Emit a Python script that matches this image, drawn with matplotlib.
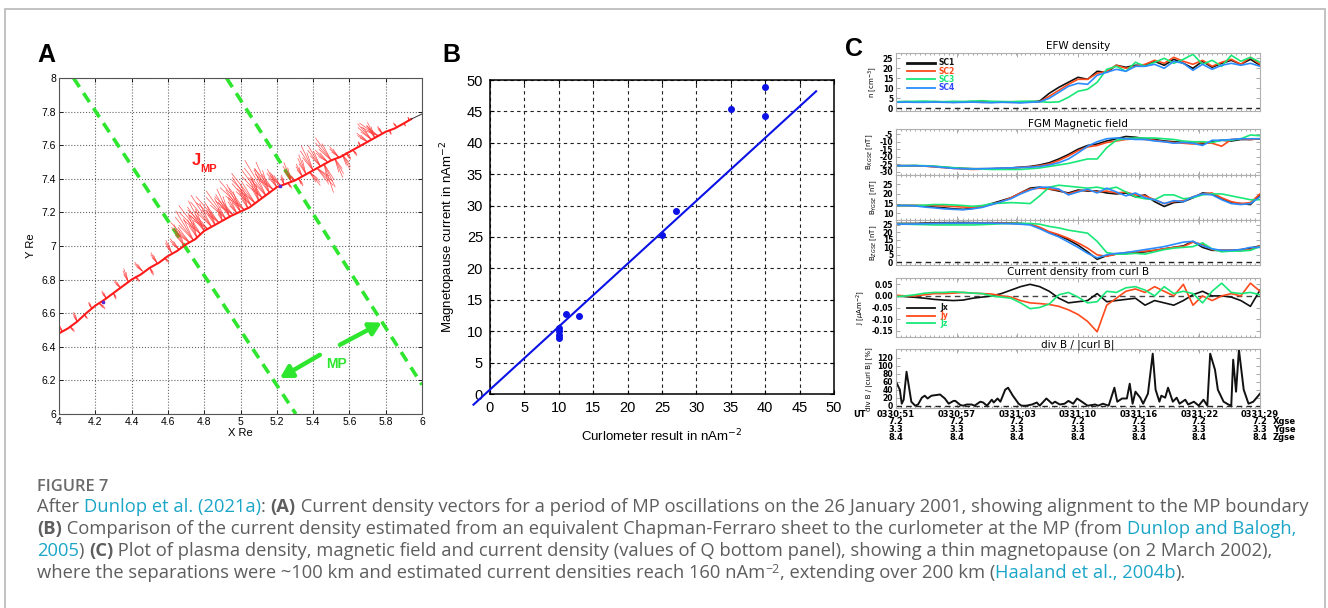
import numpy as np
import matplotlib
matplotlib.use("Agg")
import matplotlib.pyplot as plt
from matplotlib import transforms
from matplotlib.patches import Rectangle
from matplotlib.collections import LineCollection
from matplotlib.ticker import FuncFormatter, MultipleLocator

# ---------------- panel A: spacecraft track and current vectors ----------------
traj_x = [4.00, 4.05, 4.10, 4.15, 4.20, 4.25, 4.30, 4.35, 4.40, 4.45, 4.50, 4.55, 4.60,
          4.65, 4.70, 4.75, 4.80, 4.85, 4.90, 4.95, 5.00, 5.05, 5.10, 5.15, 5.20, 5.25,
          5.30, 5.35, 5.40, 5.45, 5.50, 5.55, 5.60, 5.65, 5.70, 5.75, 5.80, 5.85, 5.90, 5.94]
traj_y = [6.48, 6.51, 6.55, 6.60, 6.645, 6.68, 6.72, 6.76, 6.80, 6.83, 6.87, 6.90, 6.94,
          6.97, 7.01, 7.04, 7.09, 7.12, 7.15, 7.18, 7.205, 7.23, 7.27, 7.31, 7.35, 7.37,
          7.39, 7.42, 7.45, 7.48, 7.51, 7.53, 7.56, 7.59, 7.62, 7.65, 7.68, 7.70, 7.73, 7.755]
track_end = [(5.94, 7.755), (6.0, 7.786)]

vec_x = [4.02, 4.06, 4.10, 4.14, 4.18, 4.22, 4.26, 4.30, 4.34, 4.38, 4.42, 4.46, 4.50, 4.54, 4.58, 4.62,
         4.66, 4.69, 4.72, 4.74, 4.76, 4.78, 4.80, 4.82, 4.84, 4.86, 4.88, 4.90, 4.92, 4.94, 4.96, 4.98,
         5.00, 5.02, 5.04, 5.06, 5.08, 5.10, 5.12, 5.14, 5.16, 5.18, 5.20, 5.22, 5.24, 5.26, 5.28, 5.30,
         5.32, 5.34,
         5.36, 5.38, 5.40, 5.42, 5.44, 5.46, 5.48, 5.50, 5.52, 5.54, 5.56, 5.58,
         5.62, 5.66, 5.70, 5.72, 5.74, 5.76, 5.78, 5.82, 5.86, 5.90, 5.93]
vec_y = [6.49, 6.52, 6.55, 6.59, 6.63, 6.66, 6.69, 6.72, 6.75, 6.79, 6.82, 6.85, 6.87, 6.90, 6.93, 6.96,
         6.98, 7.00, 7.02, 7.035, 7.05, 7.07, 7.09, 7.10, 7.115, 7.125, 7.14, 7.15, 7.16, 7.175, 7.185, 7.195,
         7.205, 7.215, 7.225, 7.24, 7.255, 7.27, 7.285, 7.30, 7.315, 7.335, 7.35, 7.36, 7.365, 7.375, 7.385, 7.39,
         7.40, 7.415,
         7.43, 7.44, 7.45, 7.465, 7.475, 7.49, 7.50, 7.51, 7.52, 7.53, 7.545, 7.555,
         7.57, 7.595, 7.62, 7.635, 7.645, 7.655, 7.67, 7.69, 7.71, 7.73, 7.75]
# signed magnitude along the boundary direction, and each vector's tilt from it (deg)
vec_len = [0.05, -0.04, 0.06, -0.03, 0.04, -0.05, 0.05, -0.04, 0.06, 0.08, -0.04, 0.07, -0.05, 0.07, -0.04, 0.08,
           0.08, 0.14, 0.16, 0.20, 0.14, 0.21, 0.20, 0.16, 0.22, 0.12, 0.20, 0.08, 0.20, 0.18, 0.15, 0.10,
           0.18, 0.22, 0.12, 0.20, 0.22, 0.14, 0.20, 0.24, 0.20, 0.16, 0.12, 0.10, 0.06, -0.04, 0.12, 0.05,
           -0.05, 0.08,
           0.12, -0.10, 0.16, -0.14, 0.14, -0.18, 0.10, 0.16, -0.12, 0.08, -0.10, -0.05,
           -0.04, 0.03, 0.08, 0.12, 0.10, 0.13, 0.05, -0.03, 0.03, -0.02, 0.02]
vec_tilt = [0, 10, -10, 5, -5, 15, 0, -8, 8, -12, 5, 10, -5, 0, 12, -6,
            8, -5, 12, 0, -10, 6, -3, 15, 2, -8, 10, -12, 4, -6, 14, 0,
            -4, 9, -10, 3, 7, -14, 5, 0, -7, 11, -3, 8, -15, 6, -9, 12,
            0, -5,
            -10, 8, -5, 12, 0, -12, 15, 4, -8, 10, -3, 6,
            5, -8, 20, 10, -5, 25, 0, -10, 8, 0, -6]

mp1_x, mp1_y = [4.08, 5.305], [8.0, 6.0]
mp2_x, mp2_y = [4.923, 6.0], [8.0, 6.174]

# ---------------- panel B: Chapman-Ferraro estimate vs curlometer ----------------
curl_j = [10, 10, 10, 10, 11, 13, 25, 27, 35, 40, 40]
mp_j = [8.9, 9.4, 10.0, 10.5, 12.8, 12.4, 25.3, 29.1, 45.4, 48.9, 44.3]
fit_x = [-2.4, 47.4]
fit_y = [-1.7, 48.2]

# ---------------- panel C: Cluster time series (seconds after 03:30:51) ----------------
t_sec = np.arange(39)
dens = {
    'SC1': [3.2, 3.3, 3.2, 3.1, 3.3, 3.2, 3.0, 3.2, 3.3, 3.1, 3.0, 3.2, 3.1, 3.0, 3.2,
            3.6, 7.5, 10.5, 13.0, 15.5, 14.5, 18.5, 18.0, 21.5, 20.5, 21.5, 21.5, 23.5, 21.5,
            24.5, 22.5, 20.0, 23.5, 20.5, 22.5, 24.0, 22.0, 24.5, 21.5],
    'SC2': [3.1, 3.2, 3.1, 3.2, 3.2, 3.1, 3.1, 3.2, 3.2, 3.0, 3.1, 3.1, 3.0, 3.1, 3.1,
            3.2, 6.0, 9.0, 12.0, 14.5, 14.5, 17.5, 18.5, 21.5, 20.0, 21.0, 22.0, 24.0, 22.5,
            25.5, 23.5, 22.0, 24.0, 21.0, 23.0, 24.5, 22.0, 25.5, 22.0],
    'SC3': [3.3, 3.4, 3.5, 3.6, 3.4, 3.3, 3.5, 3.4, 3.6, 3.8, 3.5, 3.4, 3.3, 3.5, 3.6, 3.3,
            3.0, 3.2, 5.5, 8.5, 9.5, 13.0, 19.5, 21.0, 18.5, 23.0, 21.0, 23.0, 25.0, 22.5,
            24.5, 27.0, 22.0, 24.0, 21.0, 26.5, 23.5, 25.5, 23.0],
    'SC4': [3.0, 3.1, 3.0, 3.0, 3.1, 3.0, 2.9, 3.0, 3.1, 2.9, 2.8, 3.0, 2.9, 2.7, 3.0,
            3.2, 5.0, 8.0, 11.0, 12.5, 12.0, 16.5, 18.0, 19.5, 18.5, 21.0, 21.0, 22.0, 20.0,
            23.5, 22.5, 19.0, 22.0, 19.5, 21.5, 22.5, 21.5, 22.5, 21.0],
}
bx = {
    'SC1': [-26, -26, -26, -26.2, -26.5, -27, -27.5, -27.8, -28, -28, -28, -27.8, -27.5,
            -27.0, -26.5, -25.5, -24.0, -21.5, -18.5, -15.0, -12.5, -11.5, -9.5, -8.0, -6.5,
            -7.0, -8.0, -8.5, -9.5, -10.0, -10.5, -11.0, -11.5, -10.0, -9.0, -9.5, -8.5, -8.5, -8.0],
    'SC2': [-26, -26, -26, -26.3, -26.8, -27.3, -27.8, -28.2, -28.5, -28.3, -28, -27.8, -27.5,
            -27.2, -26.8, -26.0, -24.8, -22.5, -19.5, -16.0, -13.5, -12.5, -10.5, -9.5, -8.5,
            -8.0, -8.5, -9.0, -10.0, -10.5, -11.0, -11.5, -10.5, -11.0, -13.0, -8.5, -8.0, -8.5, -8.0],
    'SC3': [-26, -26, -25.8, -26, -26.3, -26.8, -27.3, -27.8, -28, -28.3, -28.5, -28.5, -28.5,
            -28.5, -28.0, -27.5, -26.5, -25.5, -24.5, -23.0, -21.5, -21.5, -14.0, -9.0, -8.0,
            -7.5, -7.5, -7.5, -8.0, -8.5, -9.5, -10.0, -10.0, -10.5, -9.0, -9.0, -8.0, -5.5, -6.0],
    'SC4': [-26, -26, -26, -26.2, -26.6, -27.2, -27.8, -28, -28.2, -28, -27.8, -27.6, -27.4,
            -27.2, -27.0, -26.5, -25.5, -24.0, -21.5, -17.5, -13.0, -10.0, -8.0, -7.5, -8.0,
            -8.5, -8.5, -9.5, -10.0, -11.0, -10.5, -11.0, -12.5, -9.0, -9.0, -8.5, -8.0, -8.0, -8.0],
}
by = {
    'SC1': [14, 14, 14, 13.8, 13.2, 12.8, 12.3, 12.0, 12.5, 13.5, 15.0, 16.5, 18.0, 20.5, 23.0,
            23.5, 22.5, 21.5, 20.5, 22.0, 21.5, 21.5, 20.5, 20.0, 20.5, 18.5, 19.5, 16.0, 13.5,
            15.5, 16.0, 18.0, 20.5, 20.0, 17.5, 15.5, 15.0, 14.5, 19.5],
    'SC2': [14, 14, 14, 14, 14, 13.8, 13.5, 13.2, 13.0, 13.5, 14.5, 16.0, 18.0, 20.5, 22.5,
            23.0, 22.5, 22.0, 20.0, 21.5, 22.0, 21.0, 21.5, 20.5, 21.0, 19.5, 19.0, 17.0, 15.0,
            16.0, 16.5, 18.5, 20.0, 20.5, 18.0, 16.0, 15.0, 15.5, 20.0],
    'SC3': [14, 14, 14, 14.2, 14.5, 14.5, 14.3, 14.0, 13.6, 14.0, 15.0, 15.2, 15.5, 15.3, 15.0,
            19.0, 23.5, 24.5, 24.0, 23.5, 23.0, 23.5, 22.5, 23.5, 21.0, 18.5, 17.5, 17.0, 19.5,
            19.5, 17.5, 18.0, 19.5, 20.0, 20.0, 19.0, 18.0, 17.0, 17.0],
    'SC4': [14, 14, 13.8, 13.2, 12.8, 12.3, 12.0, 11.8, 12.3, 13.0, 14.5, 16.0, 17.5, 20.0, 22.0,
            23.5, 23.5, 22.5, 19.5, 21.0, 22.5, 20.5, 23.0, 21.0, 19.0, 20.5, 18.0, 17.0, 15.0,
            16.5, 16.0, 18.5, 20.0, 19.5, 17.0, 15.0, 14.5, 15.0, 18.5],
}
bz = {
    'SC1': [26, 26, 26, 26.2, 26.4, 26.5, 26.5, 26.6, 26.5, 26.4, 26.5, 26.3, 26.2, 26.0,
            25.5, 23, 20, 18, 15, 11.5, 7, 2, 4.5, 5.5, 6, 6.5, 7, 8, 9, 10, 11, 14, 10, 8, 8, 8, 8.5, 9.5, 11],
    'SC2': [25.5, 25.5, 25.6, 25.8, 26, 26, 26, 26, 26.1, 26.2, 26.3, 26.2, 26.0, 25.8,
            25.5, 23.5, 20.5, 18.5, 16, 13, 9.5, 5, 4, 5.5, 6.5, 7, 7.5, 8, 9, 10, 10.5, 13.5, 12,
            8.5, 8, 8, 8, 8.5, 11],
    'SC3': [25.5, 25.5, 25.3, 25.2, 25.0, 25.0, 25.0, 25.0, 25.0, 25.2, 25.5, 25.8, 26.0, 26.0,
            26, 25.5, 24, 23, 21.5, 20.5, 19.5, 14, 6.5, 5.5, 5.5, 6, 5.5, 7, 8.5, 9.5, 10, 10.5, 13,
            9, 7, 7.5, 7.5, 8, 10.5],
    'SC4': [25.5, 25.5, 25.6, 25.8, 26, 26.1, 26.2, 26.2, 26.3, 26.2, 26.2, 26.0, 25.8, 25.5,
            25, 22.5, 19.5, 17, 13.5, 10, 6, 3, 5, 6, 6.5, 7.5, 8.5, 9.5, 10.5, 12, 13.5, 14, 11,
            9, 8, 8, 8.5, 10, 10],
}
jx = [0.0, -0.003, -0.006, -0.01, -0.015, -0.018, -0.02, -0.018, -0.01, -0.005,
      0.0, 0.01, 0.025, 0.04, 0.05, 0.04, 0.02, -0.01, -0.03, -0.025,
      -0.02, 0.01, -0.025, -0.02, -0.015, -0.01, -0.04, -0.02, -0.03, -0.04,
      -0.02, 0.005, 0.02, 0.0, 0.0, -0.005, -0.02, -0.045, 0.025]
jy = [0.003, 0.0, 0.0, 0.005, 0.01, 0.01, 0.012, 0.015, 0.012, 0.01,
      0.008, 0.0, -0.005, -0.02, -0.03, -0.033, -0.037, -0.045, -0.06, -0.08,
      -0.11, -0.155, -0.04, -0.01, 0.02, 0.03, 0.015, 0.04, 0.02, 0.0,
      0.05, -0.04, 0.0, -0.02, 0.0, 0.01, 0.0, 0.055, 0.02]
jz = [-0.003, 0.0, 0.005, 0.012, 0.015, 0.015, 0.018, 0.015, 0.012, 0.01,
      0.0, -0.005, -0.01, -0.03, -0.055, -0.05, -0.035, 0.005, 0.015, -0.005,
      -0.03, -0.025, 0.02, 0.015, 0.035, 0.04, 0.025, 0.0, 0.04, 0.01,
      0.02, 0.01, -0.03, 0.02, 0.055, 0.015, 0.01, 0.015, 0.005]
div_t = [0, 0.4, 0.6, 0.8, 1.1, 1.6, 2.0, 2.3, 2.7, 3.0, 3.3, 3.7, 4.6, 5.1, 5.5, 6.0, 6.2, 6.7,
         7.0, 7.4, 7.9, 8.2, 8.8, 9.1, 9.5, 10.0, 10.2, 10.6, 10.9, 11.4, 11.7, 12.2, 12.8, 13.1,
         13.6, 14.2, 14.7, 15.0, 15.7, 16.3, 16.6, 17.1, 17.6, 18.0, 18.5, 18.9, 19.4, 20.0, 20.8,
         21.1, 21.6, 22.2, 22.8, 23.1, 23.6, 24.1, 24.4, 24.7, 25.0, 25.5, 25.8, 26.3, 26.8, 27.1,
         27.5, 27.7, 28.1, 28.4, 28.9, 29.3, 29.6, 30.2, 30.5, 31.1, 31.6, 32.1, 32.5, 32.8, 33.3,
         33.6, 34.2, 34.7, 35.0, 35.2, 35.5, 35.8, 36.3, 36.8, 37.3, 38.0]
div_pct = [60, 40, 5, 15, 85, 10, 0, 3, 20, 25, 18, 25, 28, 18, 5, 12, 12, 2, 0, 3, 3, 0, 10, 8, 0,
           15, 8, 18, 10, 40, 45, 25, 5, 0, 0, 3, 8, 0, 18, 5, 10, 3, 5, 12, 5, 18, 10, 0, 3, 0,
           5, 0, 45, 10, 18, 18, 55, 5, 35, 20, 5, 30, 130, 40, 10, 25, 20, 45, 10, 20, 5, 15, 3,
           10, 0, 15, 0, 130, 90, 40, 10, 3, 0, 115, 35, 140, 40, 5, 10, 30]
ut_labels = ['0330:51', '0330:57', '0331:03', '0331:10', '0331:16', '0331:22', '0331:29']
gse_x = ['7.2'] * 7
gse_y = ['3.3'] * 7
gse_z = ['8.4'] * 7

sc_colors = {'SC1': '#111111', 'SC2': '#ff4a1c', 'SC3': '#19e878', 'SC4': '#2a8cff'}

W, H = 1328, 608
fig = plt.figure(figsize=(W / 100, H / 100), dpi=100)
plt.rcParams['font.family'] = ['Liberation Sans', 'DejaVu Sans']
c_font = 'DejaVu Sans'


def fx(x):
    return x / W


def fy(y):
    return 1 - y / H


def px_axes(x0, y0, x1, y1):
    return fig.add_axes([x0 / W, 1 - y1 / H, (x1 - x0) / W, (y1 - y0) / H])


# outer frame
fig.add_artist(Rectangle((fx(5), -0.05), (1325 - 5) / W, fy(9) + 0.05, transform=fig.transFigure,
                         fill=False, edgecolor='#b8b8b8', lw=1.2, clip_on=False))

for lab, x, y in [('A', 46, 55), ('B', 451, 55), ('C', 854, 49)]:
    fig.text(fx(x), fy(y), lab, fontsize=18, fontweight='bold', ha='center', va='center')

# ---------------- A ----------------
axA = px_axes(59, 78, 422, 414)
axA.set_xlim(4, 6)
axA.set_ylim(6, 8)
axA.set_xticks(np.arange(4, 6.01, 0.2))
axA.set_yticks(np.arange(6, 8.01, 0.2))
fmtA = FuncFormatter(lambda v, p: '%g' % round(v, 1))
axA.xaxis.set_major_formatter(fmtA)
axA.yaxis.set_major_formatter(fmtA)
axA.tick_params(direction='in', length=3, labelsize=7.5, top=True, right=True, pad=2, width=0.6)
axA.grid(True, linestyle=':', color='#666666', lw=0.8)
for s in axA.spines.values():
    s.set_color('#555555')
    s.set_linewidth(0.8)
axA.set_xlabel('X Re', fontsize=8, labelpad=1)
axA.set_ylabel('Y Re', fontsize=8, labelpad=4)

green = '#2ee62e'
axA.plot(mp1_x, mp1_y, color=green, lw=2.6, dashes=(3, 2))
axA.plot(mp2_x, mp2_y, color=green, lw=2.6, dashes=(3, 2))

# current vectors, each drawn as a few hairs spread around its own direction
ang0 = np.deg2rad(122)
fan = [(-9, 0.7), (-3, 1.0), (4, 0.85), (10, 0.6)]
segs = []
for x0, y0, L, tilt in zip(vec_x, vec_y, vec_len, vec_tilt):
    for da, k in fan:
        a = ang0 + np.deg2rad(da + tilt)
        segs.append([(x0, y0), (x0 + k * L * np.cos(a), y0 + k * L * np.sin(a))])
axA.add_collection(LineCollection(segs, colors='#ff2a2a', linewidths=0.5, alpha=0.8))
axA.plot(traj_x, traj_y, color='#ff1a1a', lw=1.5)
axA.plot(*zip(*track_end), color='#333333', lw=0.7)
axA.plot([4.24, 5.22], [6.668, 7.36], 's', ms=1.8, color='#5a2ad0')

axA.text(4.759, 7.511, 'J', color='#ff1a1a', fontsize=12, fontweight='bold', ha='center', va='center')
axA.text(4.826, 7.458, 'MP', color='#ff1a1a', fontsize=8, fontweight='bold', ha='center', va='center')
axA.text(5.53, 6.30, 'MP', color=green, fontsize=10, fontweight='bold', ha='center', va='center')
arrow = dict(arrowstyle='-|>,head_length=0.7,head_width=0.4', lw=3.2, color=green, shrinkA=0, shrinkB=0)
axA.annotate('', xy=(5.217, 6.214), xytext=(5.437, 6.352), arrowprops=arrow)
axA.annotate('', xy=(5.778, 6.544), xytext=(5.548, 6.412), arrowprops=arrow)

# ---------------- B ----------------
axB = px_axes(490, 80, 834, 394)
axB.set_xlim(0, 50)
axB.set_ylim(0, 50)
axB.set_xticks(np.arange(0, 51, 5))
axB.set_yticks(np.arange(0, 51, 5))
axB.tick_params(direction='in', length=3, labelsize=10.5, top=True, right=True, pad=5)
axB.grid(True, linestyle=(0, (3, 3)), color='#222222', lw=0.8)
for s in axB.spines.values():
    s.set_linewidth(1.1)
axB.plot(fit_x, fit_y, color='#0b12e6', lw=1.5, clip_on=False, zorder=3)
axB.plot(curl_j, mp_j, 'o', color='#0b12e6', ms=4, zorder=4)
axB.set_xlabel('Curlometer result in nAm$^{-2}$', fontsize=9.5, labelpad=9)
axB.set_ylabel('Magnetopause current in nAm$^{-2}$', fontsize=9.5, labelpad=6)

# ---------------- C ----------------
c_left, c_right = 896, 1260
tick_t = np.linspace(0, 38, 7)


def style_c(ax, ylim, yticks, ylabel, fmt='%g'):
    ax.set_xlim(0, 38)
    ax.set_ylim(*ylim)
    ax.set_xticks(tick_t)
    ax.set_xticklabels([])
    ax.xaxis.set_minor_locator(MultipleLocator(0.5))
    ax.set_yticks(yticks)
    ax.yaxis.set_major_formatter(FuncFormatter(lambda v, p: fmt % v))
    ax.tick_params(which='both', direction='in', color='#9a9a9a', top=True, right=True,
                   labelsize=5.5, pad=2, width=0.6)
    ax.tick_params(which='major', length=3)
    ax.tick_params(which='minor', length=1.5)
    for lbl in ax.get_yticklabels():
        lbl.set_fontweight('bold')
        lbl.set_family(c_font)
    for s in ax.spines.values():
        s.set_color('#b0b0b0')
        s.set_linewidth(0.8)
    ax.set_ylabel(ylabel, fontsize=5, labelpad=3, family=c_font)


def c_title(text, y):
    fig.text(fx(1078), fy(y), text, fontsize=7.5, ha='center', va='center', family=c_font)


def c_text(x, y, s, **kw):
    props = dict(fontsize=5.5, fontweight='bold', family=c_font, va='center')
    props.update(kw)
    return fig.text(x, y, s, **props)


def plot_sc(ax, data):
    for name in ['SC1', 'SC2', 'SC3', 'SC4']:
        ax.plot(t_sec, data[name], color=sc_colors[name], lw=1.2)


axN = px_axes(c_left, 52.7, c_right, 110.7)
plot_sc(axN, dens)
axN.axhline(0, color='#222222', lw=1, dashes=(4, 3))
style_c(axN, (-1.2, 27.8), [0, 5, 10, 15, 20, 25], 'n [cm$^{-3}$]')
c_title('EFW density', 45.7)
for i, name in enumerate(['SC1', 'SC2', 'SC3', 'SC4']):
    yy = 62.7 + i * 8.3
    fig.add_artist(plt.Line2D([fx(906.7), fx(935)], [fy(yy), fy(yy)], color=sc_colors[name],
                              lw=2 if i == 0 else 1.3, transform=fig.transFigure))
    c_text(fx(938.5), fy(yy), name, color=sc_colors[name] if name != 'SC4' else '#3048ff')

c_title('FGM Magnetic field', 124.3)
axBx = px_axes(c_left, 129.3, c_right, 175)
plot_sc(axBx, bx)
style_c(axBx, (-32.2, -1.7), [-30, -25, -20, -15, -10, -5], 'B$_{X GSE}$ [nT]')

axBy = px_axes(c_left, 175, c_right, 220)
plot_sc(axBy, by)
style_c(axBy, (6.5, 29.8), [10, 15, 20, 25], 'B$_{Y GSE}$ [nT]')

axBz = px_axes(c_left, 220, c_right, 265)
plot_sc(axBz, bz)
axBz.axhline(0, color='#222222', lw=1, dashes=(4, 3))
style_c(axBz, (-1.8, 28.3), [0, 5, 10, 15, 20, 25], 'B$_{Z GSE}$ [nT]')

c_title('Current density from curl B', 272.3)
axJ = px_axes(c_left, 278.3, c_right, 336.7)
axJ.axhline(0, color='#444444', lw=1, dashes=(4, 3))
j_colors = {'Jx': '#111111', 'Jy': '#ff4a1c', 'Jz': '#19e878'}
for name, vals in [('Jx', jx), ('Jy', jy), ('Jz', jz)]:
    axJ.plot(t_sec, vals, color=j_colors[name], lw=1.2)
style_c(axJ, (-0.176, 0.076), [-0.15, -0.10, -0.05, 0.0, 0.05], 'J [$\\mu$Am$^{-2}$]', fmt='%.2f')
for i, name in enumerate(['Jx', 'Jy', 'Jz']):
    yy = 307.7 + i * 7.8
    fig.add_artist(plt.Line2D([fx(906.7), fx(935)], [fy(yy), fy(yy)], color=j_colors[name],
                              lw=1.3, transform=fig.transFigure))
    c_text(fx(940), fy(yy), name, color=j_colors[name])

c_title('div B / |curl B|', 344.3)
axD = px_axes(c_left, 349.3, c_right, 408.3)
axD.plot(div_t, div_pct, color='#111111', lw=1.4)
axD.axhline(0, color='#222222', lw=1, dashes=(4, 3))
style_c(axD, (-6.5, 141), [0, 20, 40, 60, 80, 100, 120], 'div B / |curl B| [%]')

# orbit rows under the time axis
row_tr = transforms.blended_transform_factory(axD.transData, fig.transFigure)
for i, tt in enumerate(tick_t):
    c_text(tt, fy(414.5), ut_labels[i], transform=row_tr, ha='center', fontsize=6)
    for vals, yy in [(gse_x, 422), (gse_y, 429.5), (gse_z, 437)]:
        c_text(tt, fy(yy), vals[i], transform=row_tr, ha='center', fontsize=6)
c_text(fx(860), fy(414.5), 'UT', ha='center', fontsize=6)
for lab, yy in [('Xgse', 422), ('Ygse', 429.5), ('Zgse', 437)]:
    c_text(fx(1273), fy(yy), lab, ha='left', fontsize=6)

# ---------------- caption ----------------
renderer = fig.canvas.get_renderer()
cap_gray = '#5e5e5e'
cap_link = '#1ba6c8'
cap_family = ['Open Sans', 'DejaVu Sans']

caption = [
    [('After ', 'n'), ('Dunlop et al. (2021a)', 'l'), (': ', 'n'), ('(A)', 'b'),
     (' Current density vectors for a period of MP oscillations on the 26 January 2001, '
      'showing alignment to the MP boundary', 'n')],
    [('(B)', 'b'), (' Comparison of the current density estimated from an equivalent Chapman-Ferraro '
                    'sheet to the curlometer at the MP (from ', 'n'), ('Dunlop and Balogh,', 'l')],
    [('2005', 'l'), (') ', 'n'), ('(C)', 'b'),
     (' Plot of plasma density, magnetic field and current density (values of Q bottom panel), '
      'showing a thin magnetopause (on 2 March 2002),', 'n')],
    [('where the separations were ~100 km and estimated current densities reach 160 nAm', 'n'),
     ('\u22122', 's'), (', extending over 200 km (', 'n'), ('Haaland et al., 2004b', 'l'), (').', 'n')],
]


def run_props(kind, size):
    p = dict(family=cap_family, fontsize=size, color=cap_gray, fontweight='normal')
    if kind == 'l':
        p['color'] = cap_link
    elif kind == 'b':
        p['fontweight'] = 'bold'
    elif kind == 's':
        p['fontsize'] = size * 0.68
    return p


def text_width(s, props):
    t = fig.text(0, 0, '|' + s + '|', **props)
    w = t.get_window_extent(renderer).width
    t.remove()
    t = fig.text(0, 0, '||', **props)
    w0 = t.get_window_extent(renderer).width
    t.remove()
    return w - w0


ref_size = 10
w_line1 = sum(text_width(s, run_props(k, ref_size)) for s, k in caption[0])
cap_size = ref_size * (1306 - 37) / w_line1

fig.text(fx(37), fy(491), 'FIGURE 7', family=cap_family, fontsize=cap_size * 0.9,
         fontweight='semibold', color='#6a6a6a', va='baseline')
for li, runs in enumerate(caption):
    x = 37
    base = 512 + 22 * li
    for s, k in runs:
        props = run_props(k, cap_size)
        dy = 5 if k == 's' else 0
        fig.text(fx(x), fy(base - dy), s, va='baseline', **props)
        x += text_width(s, props)

fig.savefig('out.png', dpi=100)
